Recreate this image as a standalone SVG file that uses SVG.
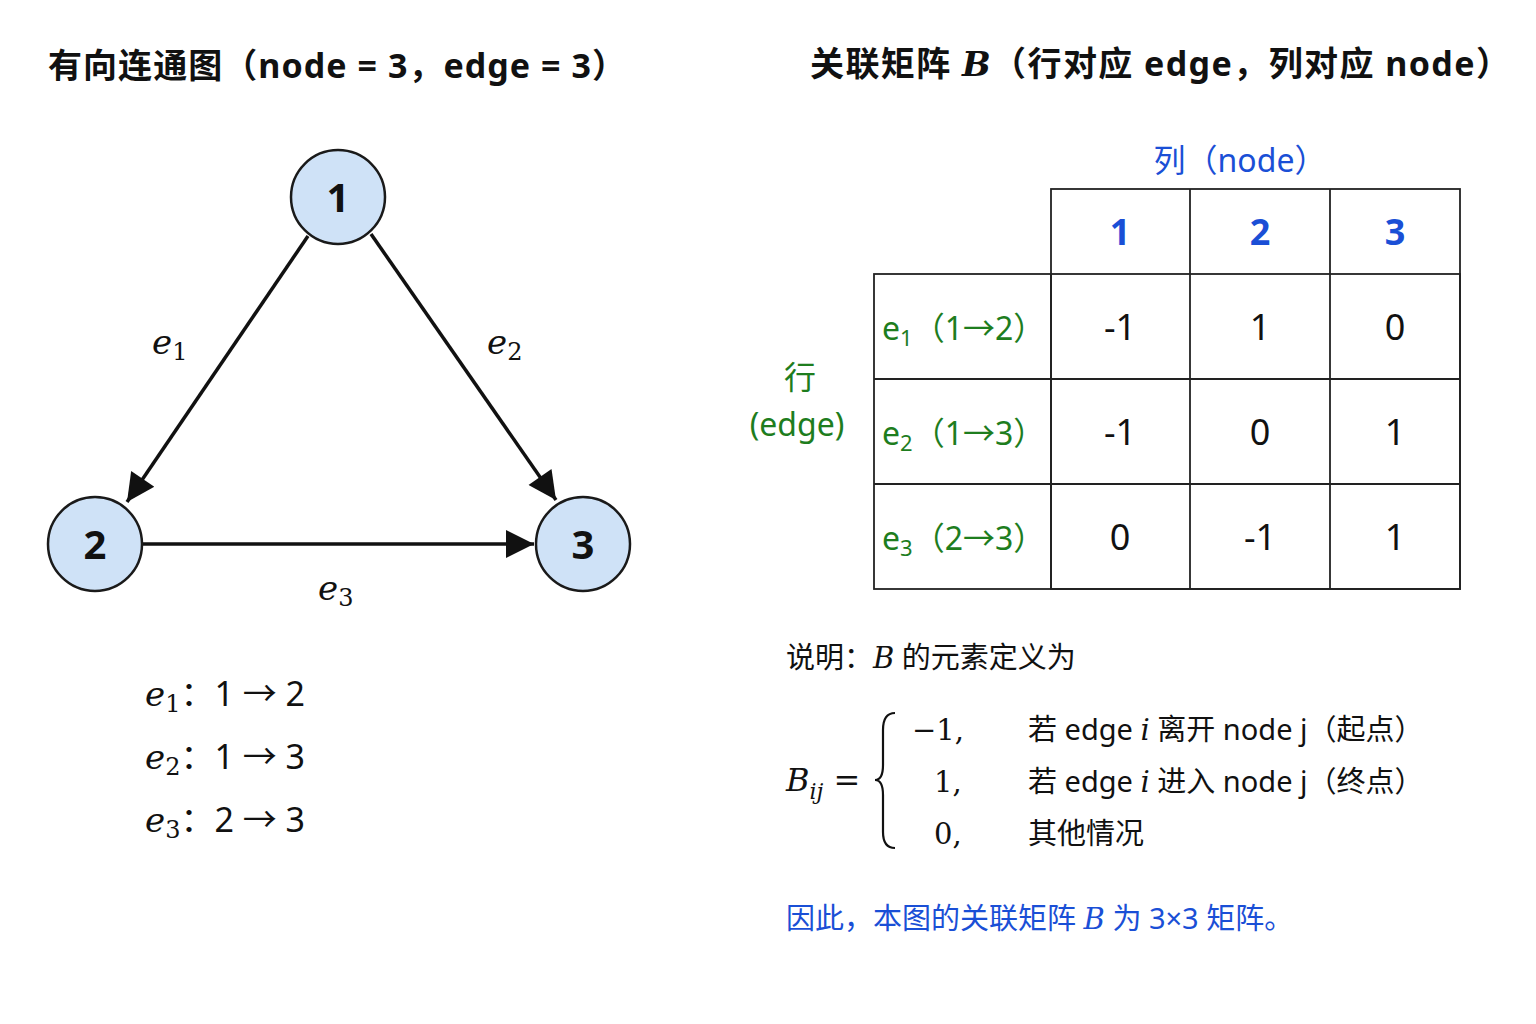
<svg xmlns="http://www.w3.org/2000/svg" width="1536" height="1024" viewBox="0 0 1536 1024">
<defs>
<marker id="arr" viewBox="0 0 10 10" refX="10" refY="5" markerWidth="34" markerHeight="28" markerUnits="userSpaceOnUse" orient="auto"><path d="M0,0 L10,5 L0,10 z" fill="#111"/></marker>
<style>
.t{font-family:"Noto Sans","Noto Sans CJK SC",sans-serif;fill:#111;font-style:normal}
.b{font-weight:bold}
.m{font-family:"DejaVu Serif","Liberation Serif",serif;font-style:italic;fill:#111}
.r{font-family:"DejaVu Serif","Liberation Serif",serif;fill:#111;font-style:normal}
.n{fill:#cfe2f7;stroke:#1a1a1a;stroke-width:2.5}
.nl{font-family:"Noto Sans",sans-serif;font-weight:bold;font-size:40px;text-anchor:middle;fill:#111}
.cell{fill:none;stroke:#222;stroke-width:1.8}
.c{font-family:"Noto Sans",sans-serif;font-size:36px;text-anchor:middle;fill:#111}
.blue{fill:#1a4fd6}
.green{fill:#1e7d1e}
</style>
</defs>
<rect width="1536" height="1024" fill="#fff"/>
<text class="t b" x="48" y="78" font-size="34" textLength="578">有向连通图（node = 3，edge = 3）</text>
<text class="t b" x="810" y="76" font-size="34" textLength="700">关联矩阵 <tspan class="m" font-weight="bold">B</tspan>（行对应 edge，列对应 node）</text>

<g id="connectors" stroke="#111" stroke-width="3.5" fill="none">
<line x1="308" y1="236" x2="127" y2="502" marker-end="url(#arr)"/>
<line x1="371" y1="234" x2="556" y2="500" marker-end="url(#arr)"/>
<line x1="142" y1="544" x2="534" y2="544" marker-end="url(#arr)"/>
</g>
<g id="edge-labels">
<text class="m" x="152" y="354" font-size="34">e<tspan class="r" font-size="24" dy="6">1</tspan></text>
<text class="m" x="487" y="354" font-size="34">e<tspan class="r" font-size="24" dy="6">2</tspan></text>
<text class="m" x="318" y="600" font-size="34">e<tspan class="r" font-size="24" dy="6">3</tspan></text>
</g>
<g id="node1"><circle class="n" cx="338" cy="197" r="47"/><text class="nl" x="338" y="212">1</text></g>
<g id="node2"><circle class="n" cx="95" cy="544" r="47"/><text class="nl" x="95" y="559">2</text></g>
<g id="node3"><circle class="n" cx="583" cy="544" r="47"/><text class="nl" x="583" y="559">3</text></g>

<g id="edge-list" font-size="34">
<text class="m" x="145" y="706">e<tspan class="r" font-size="24" dy="6">1</tspan><tspan class="t" dy="-6">：1 → 2</tspan></text>
<text class="m" x="145" y="769">e<tspan class="r" font-size="24" dy="6">2</tspan><tspan class="t" dy="-6">：1 → 3</tspan></text>
<text class="m" x="145" y="832">e<tspan class="r" font-size="24" dy="6">3</tspan><tspan class="t" dy="-6">：2 → 3</tspan></text>
</g>

<g id="matrix">
<text class="t blue" x="1240" y="172" font-size="32" text-anchor="middle">列（node）</text>
<text class="t green" x="800" y="389" font-size="32" text-anchor="middle">行</text>
<text class="t green" x="797" y="436" font-size="32" text-anchor="middle">(edge)</text>
<rect class="cell" x="1051" y="189" width="409" height="400"/>
<rect class="cell" x="874" y="274" width="586" height="315"/>
<line class="cell" x1="1190" y1="189" x2="1190" y2="589"/>
<line class="cell" x1="1330" y1="189" x2="1330" y2="589"/>
<line class="cell" x1="1051" y1="274" x2="1051" y2="589"/>
<line class="cell" x1="874" y1="379" x2="1460" y2="379"/>
<line class="cell" x1="874" y1="484" x2="1460" y2="484"/>
<text class="c blue b" x="1120" y="245">1</text><text class="c blue b" x="1260" y="245">2</text><text class="c blue b" x="1395" y="245">3</text>
<g class="t green" font-size="32">
<text x="882" y="340">e<tspan font-size="22" dy="6">1</tspan><tspan dy="-6">（1→2）</tspan></text>
<text x="882" y="445">e<tspan font-size="22" dy="6">2</tspan><tspan dy="-6">（1→3）</tspan></text>
<text x="882" y="550">e<tspan font-size="22" dy="6">3</tspan><tspan dy="-6">（2→3）</tspan></text>
</g>
<text class="c" x="1120" y="340">-1</text><text class="c" x="1260" y="340">1</text><text class="c" x="1395" y="340">0</text>
<text class="c" x="1120" y="445">-1</text><text class="c" x="1260" y="445">0</text><text class="c" x="1395" y="445">1</text>
<text class="c" x="1120" y="550">0</text><text class="c" x="1260" y="550">-1</text><text class="c" x="1395" y="550">1</text>
</g>

<g id="definition" font-size="29">
<text class="t" x="786" y="668">说明：<tspan class="m">B</tspan> 的元素定义为</text>
<text class="m" x="786" y="791" font-size="32">B<tspan font-size="22" dy="8">ij</tspan><tspan class="r" dy="-8"> =</tspan></text>
<path d="M895,713 Q883,713 883,730 L883,765 Q883,780 875,780 Q883,780 883,795 L883,832 Q883,848 895,848" fill="none" stroke="#111" stroke-width="2.2"/>
<text class="r" x="912" y="740">−1,</text>
<text class="r" x="934" y="792">1,</text>
<text class="r" x="934" y="844">0,</text>
<text class="t" x="1028" y="740">若 edge <tspan class="m">i</tspan> 离开 node j（起点）</text>
<text class="t" x="1028" y="792">若 edge <tspan class="m">i</tspan> 进入 node j（终点）</text>
<text class="t" x="1028" y="844">其他情况</text>
<text class="t blue" x="786" y="929">因此，本图的关联矩阵 <tspan class="m blue">B</tspan> 为 3×3 矩阵。</text>
</g>
</svg>
